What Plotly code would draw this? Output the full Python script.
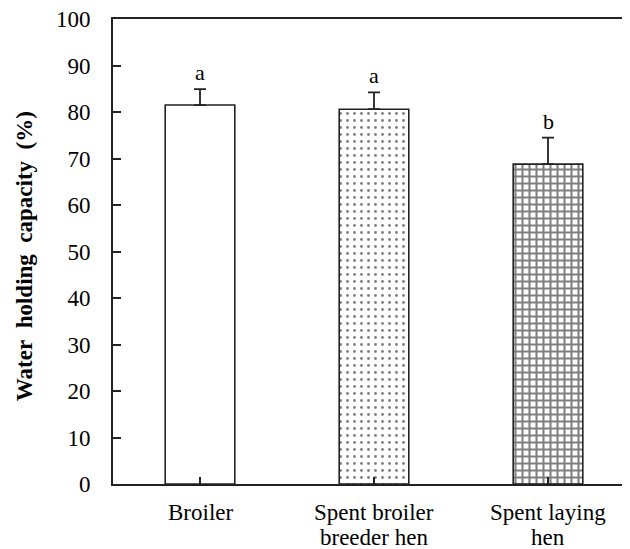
import plotly.graph_objects as go

categories = ["Broiler", "Spent broiler<br>breeder hen", "Spent laying<br>hen"]
values = [81.5, 80.6, 68.8]
errors = [3.4, 3.6, 5.7]
letters = ["a", "a", "b"]
patterns = ["", ".", "+"]
y_ticks = [0, 10, 20, 30, 40, 50, 60, 70, 80, 90, 100]

FONT = "Liberation Serif, Times New Roman, serif"

# page body has an 8px default margin; plot area placed so it lands at x=113..635, y=19..484
L, T, R, B = 105, 11, 3, 73
PW = 630 - L - R

fig = go.Figure()
fig.add_trace(go.Bar(
    x=[0, 1, 2],
    y=values,
    width=0.4,
    marker=dict(
        color="white",
        line=dict(color="#222222", width=1.6),
        pattern=dict(shape=patterns, fgcolor="black", bgcolor="white",
                     size=[7, 7, 7], solidity=[0.1, 0.13, 0.5]),
    ),
    error_y=dict(type="data", array=errors, visible=True, symmetric=False,
                 arrayminus=[0, 0, 0],
                 color="#222222", thickness=1.8, width=6),
    showlegend=False,
))

for i, (v, e, t) in enumerate(zip(values, errors, letters)):
    fig.add_annotation(x=i, y=v + e, text=t, showarrow=False, xref="x", yref="y",
                       yanchor="bottom", yshift=2,
                       font=dict(family=FONT, size=22, color="black"))

# category labels (one annotation per line for tighter line spacing)
for i, cat in enumerate(categories):
    for j, line in enumerate(cat.split("<br>")):
        fig.add_annotation(x=i, y=0, xref="x", yref="paper", text=line,
                           showarrow=False, xanchor="center", yanchor="middle",
                           yshift=-(28 + 25 * j),
                           font=dict(family=FONT, size=23, color="black"))

fig.add_annotation(
    xref="paper", yref="paper", x=(24 - 113) / PW, y=0.49,
    text="Water\u00a0\u00a0holding\u00a0\u00a0capacity\u00a0\u00a0(%)",
    textangle=-90, showarrow=False, xanchor="center", yanchor="middle",
    font=dict(family=FONT, size=23, color="black", weight="bold"),
)

fig.update_layout(
    width=630, height=549,
    margin=dict(l=L, r=R, t=T, b=B),
    plot_bgcolor="white", paper_bgcolor="white",
    font=dict(family=FONT, color="black"),
)
fig.update_xaxes(
    range=[-0.5, 2.5], automargin=False,
    tickmode="array", tickvals=[0, 1, 2], ticktext=categories,
    showticklabels=False,
    tickson="boundaries", ticks="inside", ticklen=7, tickwidth=1.5, tickcolor="#222222",
    showline=True, linecolor="#222222", linewidth=2, mirror=True,
    showgrid=False, zeroline=False,
)
fig.update_yaxes(
    range=[0, 100], automargin=False,
    tickmode="array", tickvals=y_ticks,
    ticks="inside", ticklen=8, tickwidth=1.5, tickcolor="#222222",
    showline=True, linecolor="#222222", linewidth=2,
    showgrid=False, zeroline=False,
    tickfont=dict(family=FONT, size=23, color="black"),
    ticklabelstandoff=16, ticklabeloverflow="allow",
)

fig.write_html("out.html")
